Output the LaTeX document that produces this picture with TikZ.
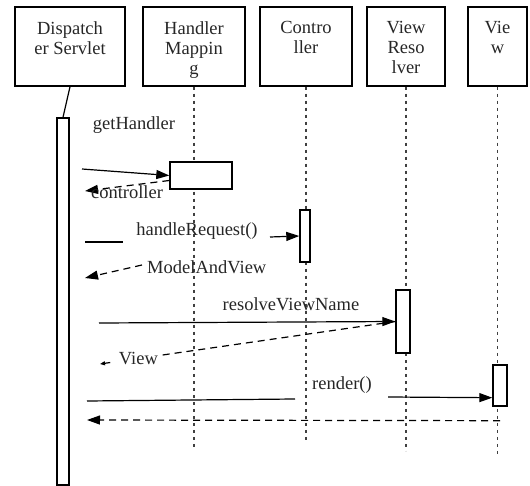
\documentclass[tikz,border=0pt]{standalone}
\usepackage{fontspec}
\setmainfont{Liberation Serif}
\usetikzlibrary{arrows.meta}

\begin{document}
\begin{tikzpicture}[x=1pt,y=-1pt,
  objbox/.style={draw,line width=1.5pt,inner sep=0pt,minimum width=#1,minimum height=79pt},
  objtext/.style={inner sep=0pt,anchor=north,align=center,text=black!85,font=\fontsize{18.5}{20}\selectfont},
  msgtext/.style={inner sep=0pt,text=black!85,font=\fontsize{18.5}{20}\selectfont},
  lifeline/.style={line width=1.3pt,black!75,dash pattern=on 3pt off 4pt},
  actbar/.style={draw,fill=white,line width=1.4pt,inner sep=0pt,minimum width=#1},
  call/.style={line width=1.2pt,-{Triangle[length=13pt,width=9pt]}},
  reply/.style={line width=1.2pt,dash pattern=on 7pt off 5pt,-{Triangle[length=13pt,width=9pt]}},
  plain/.style={line width=1.2pt}]
\path[use as bounding box] (0,0) rectangle (530,486);
% objects
\node[objbox=110pt] (dsBox) at (70,46.5) {};
\node[objbox=102pt] (hmBox) at (194,46.5) {};
\node[objbox=92pt] (ctBox) at (306,46.5) {};
\node[objbox=78pt] (vrBox) at (406,46.5) {};
\node[objbox=59pt] (vwBox) at (497.5,46.5) {};
\node[objtext] (dsText) at ([yshift=-15pt]dsBox.north) {Dispatch\\er Servlet};
\node[objtext] (hmText) at ([yshift=-15pt]hmBox.north) {Handler\\Mappin\\g};
\node[objtext] (ctText) at ([yshift=-15pt]ctBox.north) {Contro\\ller};
\node[objtext] (vrText) at ([yshift=-15pt]vrBox.north) {View\\Reso\\lver};
\node[objtext] (vwText) at ([yshift=-15pt]vwBox.north) {Vie\\w};
% lifelines
\draw[lifeline] (hmBox.south) -- ++(0,361);
\draw[lifeline] (ctBox.south) -- ++(0,354);
\draw[lifeline] (vrBox.south) -- ++(0,364);
\draw[lifeline] (vwBox.south) -- ++(0,369);
% activations
\node[actbar=12pt,minimum height=367pt] (dsAct) at (63,301.5) {};
\node[actbar=62pt,minimum height=27pt] (hmAct) at (201,175.5) {};
\node[actbar=10pt,minimum height=52pt] (ctAct) at (305,236) {};
\node[actbar=14pt,minimum height=63pt] (vrAct) at (403,321.5) {};
\node[actbar=14pt,minimum height=41pt] (vwAct) at (500,385.5) {};
\draw[plain] (dsBox.south) -- (dsAct.north);
% messages
\coordinate (ghFrom) at (82,169);
\draw[call] (ghFrom) -- (hmAct.west);
\node[msgtext] (ghText) at (134,125) {getHandler};
\coordinate (ctlTo) at (85,191);
\draw[reply] ([yshift=-5pt]hmAct.west) -- (ctlTo);
\node[msgtext] (ctlText) at (127,192) {controller};
\coordinate (hrA) at (85,242);
\coordinate (hrB) at (123,242);
\coordinate (hrC) at (270,237);
\draw[plain] (hrA) -- (hrB);
\node[msgtext] (hrText) at (197,231) {handleRequest()};
\draw[call] (hrC) -- (ctAct.west);
\coordinate (mvFrom) at (142,265);
\coordinate (mvTo) at (85,278);
\draw[reply] (mvFrom) -- (mvTo);
\node[msgtext,anchor=west] (mvText) at (147,267) {ModelAndView};
\coordinate (rvFrom) at (99,323);
\draw[call] (rvFrom) -- (vrAct.west);
\node[msgtext] (rvText) at (291,304) {resolveViewName};
\coordinate (vTo) at (100,364);
\draw[reply,-{Triangle[length=5pt,width=4pt]}] (vrAct.west) -- node[msgtext,pos=0.87,fill=white,inner sep=4pt] (vText) {View} (vTo);
\coordinate (rdA) at (87,401);
\coordinate (rdB) at (295,399);
\coordinate (rdC) at (388,397);
\draw[plain] (rdA) -- (rdB);
\node[msgtext] (rdText) at (342,385) {render()};
\draw[call] (rdC) -- ([yshift=9pt]vwAct.south west);
\coordinate (rtTo) at (87,420);
\draw[reply] ([yshift=-14pt]vwAct.south) -- (rtTo);
\end{tikzpicture}
\end{document}
